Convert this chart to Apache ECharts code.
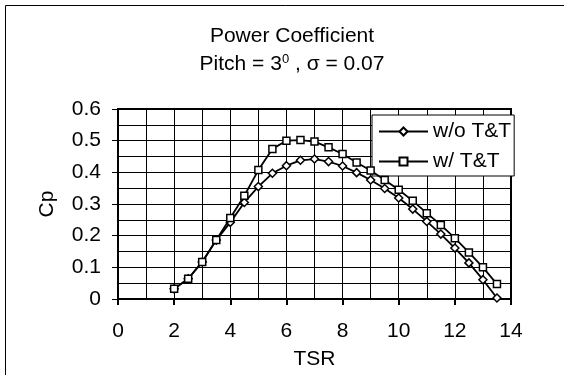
<!DOCTYPE html>
<html>
<head>
<meta charset="utf-8">
<script src="https://cdn.jsdelivr.net/npm/echarts@6/dist/echarts.min.js"></script>
<style>html,body{margin:0;padding:0;background:#fff}#c{width:564px;height:375px}</style>
</head>
<body>
<div id="c"></div>
<script>
const tsr = [2,2.5,3,3.5,4,4.5,5,5.5,6,6.5,7,7.5,8,8.5,9,9.5,10,10.5,11,11.5,12,12.5,13,13.5];
const cpWithout = [0.032,0.064,0.117,0.186,0.242,0.305,0.355,0.397,0.421,0.438,0.442,0.434,0.420,0.399,0.376,0.349,0.319,0.284,0.245,0.205,0.161,0.114,0.061,0.003];
const cpWith = [0.032,0.064,0.117,0.186,0.256,0.326,0.407,0.474,0.500,0.502,0.497,0.479,0.458,0.431,0.406,0.376,0.345,0.310,0.271,0.234,0.192,0.147,0.100,0.047];
const seriesNames = ['w/o T&T','w/ T&T'];
const xTicks = [0,2,4,6,8,10,12,14];
const yTicks = [0,0.1,0.2,0.3,0.4,0.5,0.6];

const FONT = 'Arial, "Liberation Sans", sans-serif';
const FS = 21;
const chart = echarts.init(document.getElementById('c'), null, {renderer:'canvas'});
const pairs = (ys) => tsr.map((x,i)=>[x, ys[i]]);
chart.setOption({
  animation:false,
  backgroundColor:'#fff',
  textStyle:{fontFamily:FONT,color:'#000'},
  graphic:[{type:'rect',shape:{x:5.5,y:5.5,width:600,height:400},style:{fill:'none',stroke:'#000',lineWidth:1},silent:true,z:-1}],
  title:[
    {text:'Power Coefficient',left:287,top:21,textAlign:'center',textStyle:{fontFamily:FONT,fontSize:FS,fontWeight:'normal',color:'#000'}},
    {text:'{a|Pitch = 3}{s|0}{a| , σ = 0.07}',left:287,top:48,textAlign:'center',
     textStyle:{fontWeight:'normal',rich:{
       a:{fontFamily:FONT,fontSize:FS,fontWeight:'normal',color:'#000',lineHeight:22},
       s:{fontFamily:FONT,fontSize:13,fontWeight:'normal',color:'#000',verticalAlign:'top',lineHeight:22,padding:[0,0,8,0]}}}}
  ],
  grid:{left:118,right:53,top:109,bottom:76,show:true,borderColor:'#000',borderWidth:2,backgroundColor:'transparent'},
  legend:{
    orient:'vertical',left:372,top:115,
    data:seriesNames,
    backgroundColor:'#fff',borderColor:'#000',borderWidth:1,
    padding:[6,3,4,6],itemGap:9,itemWidth:49,itemHeight:10,
    textStyle:{fontFamily:FONT,fontSize:FS,color:'#000'}
  },
  xAxis:{
    type:'value',min:xTicks[0],max:xTicks[xTicks.length-1],interval:2,
    name:'TSR',nameLocation:'middle',nameGap:50,nameTextStyle:{fontFamily:FONT,fontSize:FS,color:'#000'},
    axisLine:{show:true,onZero:false,lineStyle:{color:'#000',width:2}},
    axisTick:{show:true,length:6,lineStyle:{color:'#000',width:2}},
    axisLabel:{fontFamily:FONT,fontSize:FS,color:'#000',margin:22},
    splitLine:{show:true,lineStyle:{color:'#000',width:1}},
    minorTick:{show:false,splitNumber:2},
    minorSplitLine:{show:true,lineStyle:{color:'#000',width:1}}
  },
  yAxis:{
    type:'value',min:yTicks[0],max:yTicks[yTicks.length-1],interval:0.1,
    name:'Cp',nameLocation:'middle',nameGap:60,nameRotate:90,nameTextStyle:{fontFamily:FONT,fontSize:FS,color:'#000'},
    axisLine:{show:true,lineStyle:{color:'#000',width:2}},
    axisTick:{show:true,length:6,lineStyle:{color:'#000',width:1}},
    axisLabel:{fontFamily:FONT,fontSize:FS,color:'#000',margin:17,formatter:(v)=>String(+v.toFixed(1))},
    splitLine:{show:true,lineStyle:{color:'#000',width:1}},
    minorTick:{show:false,splitNumber:2},
    minorSplitLine:{show:true,lineStyle:{color:'#000',width:1}}
  },
  series:[
    {name:seriesNames[0],type:'line',data:pairs(cpWithout),symbol:'diamond',symbolSize:8,showAllSymbol:true,
     lineStyle:{color:'#000',width:1.8},itemStyle:{color:'#fff',borderColor:'#000',borderWidth:1.5},z:3},
    {name:seriesNames[1],type:'line',data:pairs(cpWith),symbol:'rect',symbolSize:7,showAllSymbol:true,
     lineStyle:{color:'#000',width:1.8},itemStyle:{color:'#fff',borderColor:'#000',borderWidth:1.5},z:4}
  ]
});
</script>
</body>
</html>
